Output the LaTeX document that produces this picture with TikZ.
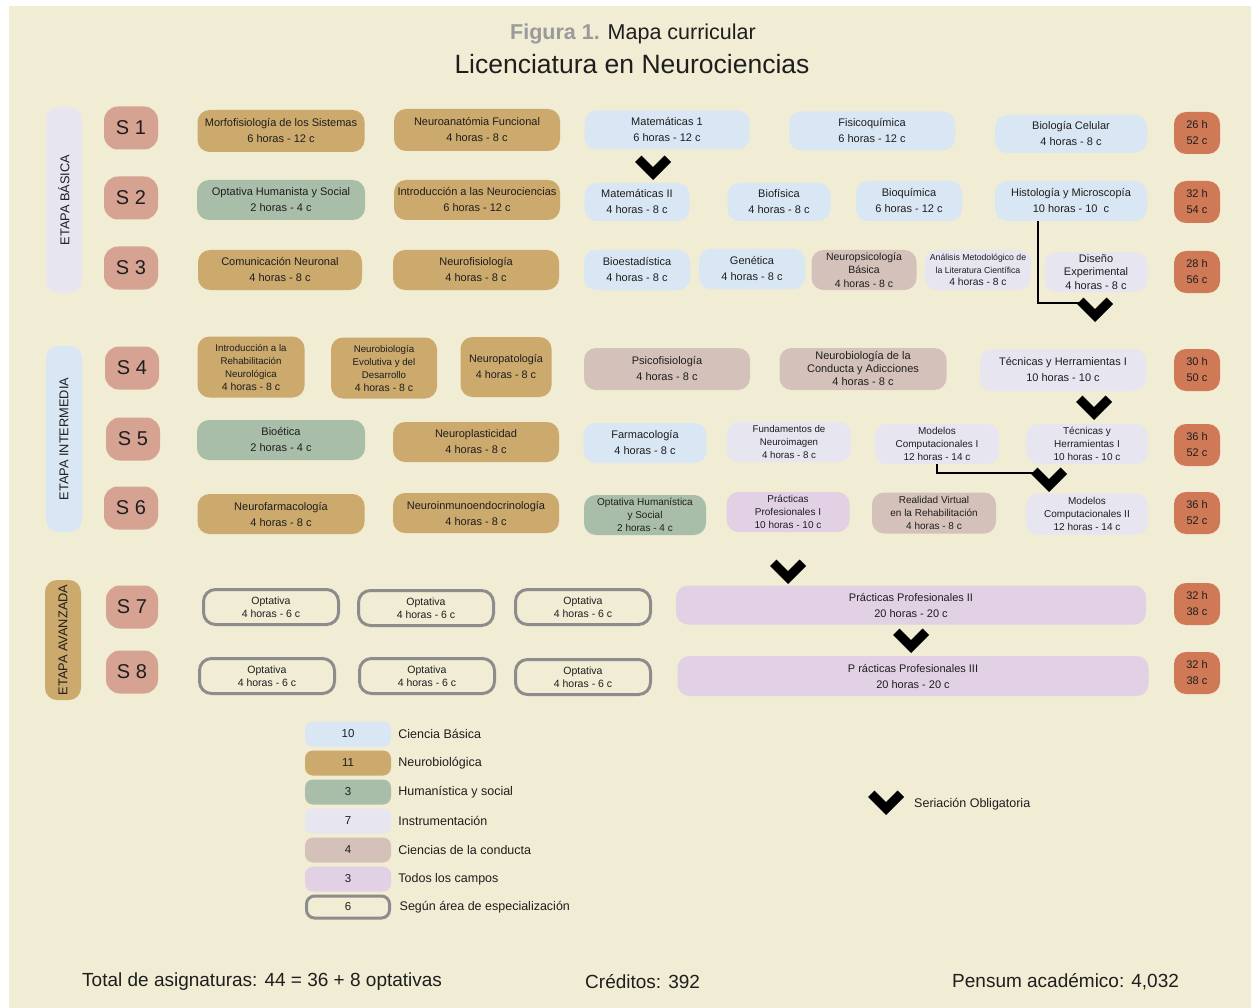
\documentclass[tikz,border=0pt]{standalone}
\usepackage{fontspec}
\setmainfont{Liberation Sans}
\usepackage{xcolor}
\usetikzlibrary{positioning,calc}

\definecolor{fondo}{HTML}{F1ECD4}
\definecolor{cbasica}{HTML}{D9E7F4}
\definecolor{cneuro}{HTML}{CCA96C}
\definecolor{chuman}{HTML}{A9BEA9}
\definecolor{cinstr}{HTML}{E7E5F0}
\definecolor{cconducta}{HTML}{D4C2BA}
\definecolor{ctodos}{HTML}{E2D1E5}
\definecolor{csem}{HTML}{D6A393}
\definecolor{ccred}{HTML}{CF7956}
\definecolor{cborde}{HTML}{8C8C8C}
\definecolor{ctexto}{HTML}{1E1E1E}
\definecolor{cfigura}{HTML}{9A9A9A}

\begin{document}
\begin{tikzpicture}[x=1pt, y=-1pt, text=ctexto]
    \tikzstyle{curso} = [rectangle, rounded corners=12pt, minimum height=40pt, inner sep=1pt, align=center, font=\fontsize{11}{16}\selectfont]
    \tikzstyle{basica} = [curso, fill=cbasica]
    \tikzstyle{neuro} = [curso, fill=cneuro]
    \tikzstyle{human} = [curso, fill=chuman]
    \tikzstyle{instr} = [curso, fill=cinstr]
    \tikzstyle{conducta} = [curso, fill=cconducta]
    \tikzstyle{todos} = [curso, fill=ctodos]
    \tikzstyle{espec} = [curso, draw=cborde, line width=3pt, fill=fondo, minimum width=135pt, minimum height=35pt, font=\fontsize{10.5}{13}\selectfont]
    \tikzstyle{tres} = [font=\fontsize{10.5}{13.5}\selectfont]
    \tikzstyle{chico} = [font=\fontsize{9.7}{13}\selectfont]
    \tikzstyle{sem} = [rectangle, rounded corners=14pt, fill=csem, minimum width=54pt, minimum height=43pt, inner sep=0pt, font=\fontsize{20}{24}\selectfont]
    \tikzstyle{cred} = [rectangle, rounded corners=12pt, fill=ccred, minimum width=46pt, minimum height=42pt, inner sep=0pt, align=center, font=\fontsize{11}{16}\selectfont]
    \tikzstyle{etapa} = [rectangle, rounded corners=12pt, rotate=90, minimum height=36pt, inner sep=0pt, font=\fontsize{12.8}{15}\selectfont]
    \tikzstyle{leyenda} = [rectangle, rounded corners=8pt, minimum width=86pt, minimum height=25pt, inner sep=0pt, font=\fontsize{11.5}{14}\selectfont]
    \tikzstyle{nota} = [anchor=west, inner sep=0pt, font=\fontsize{12.5}{15}\selectfont]
    \tikzstyle{pie} = [anchor=west, inner sep=0pt, font=\fontsize{19}{22}\selectfont]
    \tikzstyle{serie} = [draw=black, line width=2.6pt]
    \tikzset{chevron/.pic={\fill[black] (0,0) -- (-18,-18) -- (-11.6,-24.4) -- (0,-12.8) -- (11.6,-24.4) -- (18,-18) -- cycle;}}

    % fondo
    \useasboundingbox (0,0) rectangle (1257,1008);
    \fill[white] (0,0) rectangle (1257,1008);
    \fill[fondo] (9,6) rectangle (1251,1008);

    % titulo
    \node[font=\fontsize{21.5}{26}\selectfont] (fig) at (633,34) {\textcolor{cfigura}{\bfseries Figura 1.} Mapa curricular};
    \node[font=\fontsize{26.5}{30}\selectfont] (lic) at (632,64) {Licenciatura en Neurociencias};

    % etapas
    \node[etapa, fill=cinstr, minimum width=185pt] (ebas) at (64,200) {ETAPA BÁSICA};
    \node[etapa, fill=cbasica, minimum width=186pt] (eint) at (64,439) {ETAPA INTERMEDIA};
    \node[etapa, fill=cneuro, minimum width=120pt] (eava) at (63,640) {ETAPA AVANZADA};

    % semestres
    \node[sem] (s1) at (131,128) {S 1};
    \node[sem] (s2) at (131,198) {S 2};
    \node[sem] (s3) at (131,268) {S 3};
    \node[sem] (s4) at (132,368) {S 4};
    \node[sem] (s5) at (133,439) {S 5};
    \node[sem] (s6) at (131,508) {S 6};
    \node[sem, minimum width=52pt] (s7) at (132,607) {S 7};
    \node[sem, minimum width=52pt] (s8) at (132,672) {S 8};

    % S1
    \node[neuro, minimum width=167pt, minimum height=42pt] (morfo) at (281,131) {Morfofisiología de los Sistemas\\6 horas - 12 c};
    \node[neuro, minimum width=166pt, minimum height=42pt] (anat) at (477,130) {Neuroanatómia Funcional\\4 horas - 8 c};
    \node[basica, minimum width=165pt, minimum height=39pt] (mat1) at (667,130) {Matemáticas 1\\6 horas - 12 c};
    \node[basica, minimum width=166pt, minimum height=39pt] (fisico) at (872,131) {Fisicoquímica\\6 horas - 12 c};
    \node[basica, minimum width=152pt, minimum height=38pt] (celular) at (1071,134) {Biología Celular\\4 horas - 8 c};
    \node[cred] (cr1) at (1197,133) {26 h\\52 c};

    % S2
    \node[human, minimum width=168pt] (opthum) at (281,200) {Optativa Humanista y Social\\2 horas - 4 c};
    \node[neuro, minimum width=166pt] (intro) at (477,200) {Introducción a las Neurociencias\\6 horas - 12 c};
    \node[basica, minimum width=105pt, minimum height=38pt] (mat2) at (637,202) {Matemáticas II\\4 horas - 8 c};
    \node[basica, minimum width=103pt, minimum height=38pt] (biofis) at (779,202) {Biofísica\\4 horas - 8 c};
    \node[basica, minimum width=106pt] (bioq) at (909,201) {Bioquímica\\6 horas - 12 c};
    \node[basica, minimum width=152pt] (histo) at (1071,201) {Histología y Microscopía\\10 horas - 10~~c};
    \node[cred] (cr2) at (1197,202) {32 h\\54 c};

    % S3
    \node[neuro, minimum width=164pt] (comun) at (280,270) {Comunicación Neuronal\\4 horas - 8 c};
    \node[neuro, minimum width=166pt] (nfisio) at (476,270) {Neurofisiología\\4 horas - 8 c};
    \node[basica, minimum width=106pt] (bioest) at (637,270) {Bioestadística\\4 horas - 8 c};
    \node[basica, minimum width=106pt] (genet) at (752,269) {Genética\\4 horas - 8 c};
    \node[conducta, tres, minimum width=105pt] (npsico) at (864,270) {Neuropsicología\\Básica\\4 horas - 8 c};
    \node[instr, minimum width=106pt, font=\fontsize{8.7}{12.5}\selectfont] (analisis) at (978,270) {Análisis Metodológico de\\\fontsize{8.7}{12.5}\selectfont la Literatura Científica\\\fontsize{10.3}{12.5}\selectfont 4 horas - 8 c};
    \node[instr, minimum width=103pt, font=\fontsize{11}{13.5}\selectfont] (diseno) at (1096,272) {Diseño\\Experimental\\4 horas - 8 c};
    \node[cred] (cr3) at (1197,272) {28 h\\56 c};

    % S4
    \node[neuro, chico, minimum width=107pt, minimum height=61pt] (rehab) at (251,367) {Introducción a la\\Rehabilitación\\Neurológica\\\fontsize{10.5}{13.5}\selectfont 4 horas - 8 c};
    \node[neuro, chico, minimum width=106pt, minimum height=61pt] (evol) at (384,368) {Neurobiología\\Evolutiva y del\\Desarrollo\\\fontsize{10.5}{13.5}\selectfont 4 horas - 8 c};
    \node[neuro, minimum width=91pt, minimum height=60pt, font=\fontsize{10.8}{16}\selectfont] (patol) at (506,367) {Neuropatología\\4 horas - 8 c};
    \node[conducta, minimum width=166pt, minimum height=42pt] (psicof) at (667,369) {Psicofisiología\\4 horas - 8 c};
    \node[conducta, minimum width=167pt, minimum height=42pt, font=\fontsize{11}{13}\selectfont] (adic) at (863,369) {Neurobiología de la\\Conducta y Adicciones\\4 horas - 8 c};
    \node[instr, minimum width=166pt, minimum height=42pt] (tec1) at (1063,370) {Técnicas y Herramientas I\\10 horas - 10 c};
    \node[cred] (cr4) at (1197,370) {30 h\\50 c};

    % S5
    \node[human, minimum width=168pt] (bioet) at (281,440) {Bioética\\2 horas - 4 c};
    \node[neuro, minimum width=166pt] (plast) at (476,442) {Neuroplasticidad\\4 horas - 8 c};
    \node[basica, minimum width=123pt] (farma) at (645,443) {Farmacología\\4 horas - 8 c};
    \node[instr, chico, minimum width=124pt] (nimagen) at (789,442) {Fundamentos de\\Neuroimagen\\4 horas - 8 c};
    \node[instr, minimum width=124pt, font=\fontsize{10}{12.7}\selectfont] (model1) at (937,444) {Modelos\\Computacionales I\\12 horas - 14 c};
    \node[instr, minimum width=122pt, font=\fontsize{10}{12.7}\selectfont] (tec2) at (1087,444) {Técnicas y\\Herramientas I\\10 horas - 10 c};
    \node[cred] (cr5) at (1197,445) {36 h\\52 c};

    % S6
    \node[neuro, minimum width=167pt] (nfarma) at (281,514) {Neurofarmacología\\4 horas - 8 c};
    \node[neuro, minimum width=166pt] (nendo) at (476,513) {Neuroinmunoendocrinología\\4 horas - 8 c};
    \node[human, minimum width=122pt, font=\fontsize{10}{12.7}\selectfont] (opthum2) at (645,515) {Optativa Humanística\\y Social\\2 horas - 4 c};
    \node[todos, minimum width=123pt, font=\fontsize{10}{12.7}\selectfont] (pract1) at (788,512) {Prácticas\\Profesionales I\\10 horas - 10 c};
    \node[conducta, minimum width=124pt, minimum height=41pt, font=\fontsize{10}{12.7}\selectfont] (rvirt) at (934,513) {Realidad Virtual\\en la Rehabilitación\\4 horas - 8 c};
    \node[instr, minimum width=122pt, minimum height=41pt, font=\fontsize{10}{12.7}\selectfont] (model2) at (1087,514) {Modelos\\Computacionales II\\12 horas - 14 c};
    \node[cred] (cr6) at (1197,513) {36 h\\52 c};

    % S7
    \node[espec] (opt71) at (271,607) {Optativa\\4 horas - 6 c};
    \node[espec] (opt72) at (426,608) {Optativa\\4 horas - 6 c};
    \node[espec] (opt73) at (583,607) {Optativa\\4 horas - 6 c};
    \node[todos, minimum width=470pt, minimum height=39pt] (pract2) at (911,605) {Prácticas Profesionales II\\20 horas - 20 c};
    \node[cred] (cr7) at (1197,604) {32 h\\38 c};

    % S8
    \node[espec] (opt81) at (267,676) {Optativa\\4 horas - 6 c};
    \node[espec] (opt82) at (427,676) {Optativa\\4 horas - 6 c};
    \node[espec] (opt83) at (583,677) {Optativa\\4 horas - 6 c};
    \node[todos, minimum width=471pt] (pract3) at (913,676) {P rácticas Profesionales III\\20 horas - 20 c};
    \node[cred] (cr8) at (1197,673) {32 h\\38 c};

    % seriacion
    \coordinate (histfin) at (1082,303);
    \coordinate (modfin) at (1036,473);
    \draw[serie] ([xshift=-33pt]histo.south) |- (histfin);
    \draw[serie] (model1.south) |- (modfin);
    \pic at (653,180) {chevron};
    \pic at (1095,322) {chevron};
    \pic at (1094,420) {chevron};
    \pic at (1049,492) {chevron};
    \pic at (788,584) {chevron};
    \pic at (911,653) {chevron};

    % leyenda
    \node[leyenda, fill=cbasica] (l1) at (348,734) {10};
    \node[leyenda, fill=cneuro] (l2) at (348,763) {11};
    \node[leyenda, fill=chuman] (l3) at (348,792) {3};
    \node[leyenda, fill=cinstr] (l4) at (348,821) {7};
    \node[leyenda, fill=cconducta] (l5) at (348,850) {4};
    \node[leyenda, fill=ctodos] (l6) at (348,879) {3};
    \node[leyenda, draw=cborde, line width=3pt, fill=fondo, minimum width=83pt, minimum height=22pt] (l7) at (348,907) {6};
    \node[nota, right=7pt of l1] (t1) {Ciencia Básica};
    \node[nota, right=7pt of l2] (t2) {Neurobiológica};
    \node[nota, right=7pt of l3] (t3) {Humanística y social};
    \node[nota, right=7pt of l4] (t4) {Instrumentación};
    \node[nota, right=7pt of l5] (t5) {Ciencias de la conducta};
    \node[nota, right=7pt of l6] (t6) {Todos los campos};
    \node[nota, right=8.5pt of l7] (t7) {Según área de especialización};
    \pic at (886,815) {chevron};
    \node[nota] (serob) at (914,804) {Seriación Obligatoria};

    % totales
    \node[pie] (total) at (82,982) {Total de asignaturas: 44 = 36 + 8 optativas};
    \node[pie] (creditos) at (585,982) {Créditos: 392};
    \node[pie] (pensum) at (952,982) {Pensum académico: 4,032};
\end{tikzpicture}
\end{document}
